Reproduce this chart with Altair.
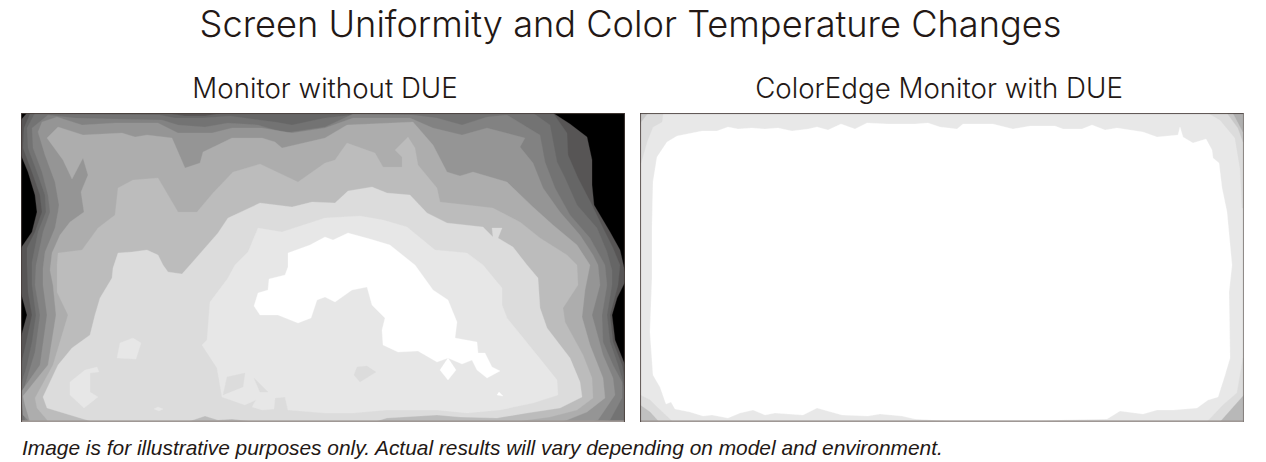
import altair as alt
import pandas as pd

TITLE = "Screen Uniformity and Color Temperature Changes"
LEFT_TITLE = "Monitor without DUE"
RIGHT_TITLE = "ColorEdge Monitor with DUE"
NOTE = "Image is for illustrative purposes only. Actual results will vary depending on model and environment."

# Contour outlines, in picture pixels
L0 = [(21,113),(625,113),(625,422),(21,422)]
L1 = [(27,113),(553,113),(570,124),(587,137),(592,160),(592,185),(594,205),(610,232),(620,250),(625,272),(625,282),(617,298),(612,315),(615,340),(625,365),(625,422),(21,422),(21,337),(27,315),(21,293),(21,248),(32,232),(37,212),(35,195),(28,172),(21,155),(21,120)]
L2 = [(30,114),(172,114),(185,116),(205,116),(222,113),(553,113),(567,133),(568,155),(578,178),(592,205),(603,228),(613,248),(620,265),(618,285),(610,315),(613,342),(622,365),(625,380),(625,422),(21,422),(21,365),(25,348),(32,315),(28,292),(27,265),(27,248),(35,232),(42,212),(40,195),(32,172),(23,148),(24,128)]
L3 = [(35,113),(80,114),(160,115),(175,118),(202,118),(230,116),(275,122),(292,125),(325,118),(370,113),(533,113),(550,125),(557,162),(565,178),(577,205),(597,228),(607,252),(612,270),(612,285),(607,315),(610,342),(618,365),(622,378),(625,392),(625,422),(21,422),(21,385),(27,365),(32,342),(36,315),(32,285),(32,262),(38,232),(46,212),(45,195),(37,172),(28,148),(27,128)]
L4 = [(48,115),(75,118),(115,119),(162,120),(178,125),(205,127),(228,123),(258,125),(285,133),(325,127),(353,114),(413,115),(437,118),(462,125),(487,117),(507,115),(540,135),(545,162),(555,188),(570,215),(590,238),(605,265),(607,285),(602,315),(603,342),(613,365),(622,382),(622,398),(610,420),(600,422),(45,422),(25,420),(21,398),(28,375),(35,352),(40,315),(35,285),(36,265),(43,232),(50,212),(48,195),(42,172),(33,148),(32,128)]
L5 = [(57,117),(82,125),(115,123),(158,123),(178,133),(212,133),(232,128),(262,128),(292,133),(325,128),(353,118),(410,118),(433,128),(462,135),(487,128),(525,138),(520,147),(533,163),(543,188),(560,212),(580,235),(593,255),(598,265),(600,285),(592,315),(603,355),(613,378),(615,395),(598,420),(590,422),(30,422),(23,415),(21,392),(40,365),(47,315),(43,285),(43,268),(45,252),(55,228),(58,212),(59,205),(55,182),(45,155),(38,132),(42,122)]
L6 = [(47,138),(58,127),(83,135),(122,133),(135,137),(147,135),(172,138),(185,168),(200,163),(203,152),(232,138),(262,138),(275,142),(282,148),(325,138),(347,125),(413,122),(433,145),(447,172),(460,176),(473,172),(507,182),(533,207),(553,225),(577,245),(590,265),(585,290),(582,317),(590,345),(603,378),(605,398),(587,412),(567,420),(560,422),(30,422),(25,405),(23,396),(48,365),(56,315),(53,285),(50,270),(52,253),(60,235),(70,222),(84,212),(81,192),(88,175),(83,158),(72,179),(63,160)]
L7 = [(118,188),(133,180),(158,178),(178,212),(197,212),(213,193),(233,172),(260,164),(298,182),(325,163),(335,160),(342,150),(347,143),(375,153),(383,167),(402,167),(402,157),(395,150),(408,137),(415,148),(418,165),(437,188),(440,202),(467,205),(493,208),(520,222),(540,238),(567,255),(577,265),(578,285),(563,308),(565,322),(583,355),(592,378),(593,398),(577,410),(550,417),(520,421),(48,421),(37,408),(35,398),(53,365),(68,315),(57,292),(57,265),(58,253),(82,250),(98,228),(115,215)]
L8 = [(113,268),(118,253),(132,252),(147,250),(158,255),(163,265),(168,272),(182,274),(190,265),(218,233),(228,218),(260,203),(292,207),(312,202),(335,203),(348,191),(372,187),(387,193),(410,195),(427,213),(447,223),(483,227),(493,237),(492,228),(502,228),(498,238),(513,247),(527,265),(538,278),(540,308),(547,328),(570,358),(580,382),(582,397),(560,408),(527,413),(497,418),(460,417),(437,415),(387,418),(377,421),(248,421),(232,419),(218,420),(205,416),(190,421),(90,421),(47,408),(43,397),(58,365),(72,348),(90,335),(95,315),(100,298),(112,278)]
L9 = [(235,265),(248,252),(258,228),(282,232),(325,218),(360,216),(383,220),(407,227),(435,250),(467,253),(483,265),(502,288),(502,305),(507,318),(537,355),(557,380),(558,395),(533,403),(500,410),(467,413),(437,410),(387,410),(353,413),(325,413),(288,410),(285,397),(275,398),(274,409),(262,410),(252,407),(256,400),(245,405),(222,397),(217,368),(202,345),(207,340),(210,302),(228,278)]
L9_A = [(120,343),(133,338),(141,343),(136,359),(117,358)]
L9_B = [(85,370),(97,367),(99,372),(90,373),(90,392),(98,397),(84,408),(70,395),(70,382)]
L9_C = [(154,409),(158,407),(163,409),(159,411)]
L8_A = [(227,377),(245,373),(243,387),(223,395)]
L8_B = [(254,378),(268,392),(260,392)]
L8_C = [(357,367),(367,366),(376,372),(360,382),(354,375)]
L10 = [(288,253),(310,245),(325,237),(333,240),(348,233),(370,239),(390,245),(415,265),(433,290),(448,300),(457,322),(455,338),(477,342),(478,353),(485,353),(492,367),(500,371),(487,378),(477,370),(472,360),(462,364),(448,358),(437,362),(418,351),(398,352),(383,345),(382,330),(385,318),(372,305),(367,287),(352,290),(335,302),(325,297),(317,300),(311,318),(298,323),(278,315),(260,315),(254,306),(258,293),(268,290),(269,279),(285,275),(288,267)]
L10_A = [(448,358),(456,370),(448,380),(440,370)]
L10_B = [(497,395),(499,392),(503,396)]
L_EDGE = [(21,420.6),(625,420.6),(625,422),(21,422)]
L_FRAME_TOP = [(21,113),(625,113),(625,113.7),(21,113.7)]
L_FRAME_LEFT = [(21,113),(21.7,113),(21.7,422),(21,422)]
L_FRAME_RIGHT = [(624.3,113),(625,113),(625,422),(624.3,422)]

R_BASE = [(640,113),(1244,113),(1244,422),(640,422)]
R_WHITE = [(652,228),(653,182),(657,157),(667,142),(677,136),(702,131),(717,131),(728,127),(738,129),(752,128),(765,129),(778,128),(792,131),(808,129),(817,127),(828,130),(841,124),(855,129),(867,123),(888,124),(915,124),(928,123),(940,127),(957,129),(963,124),(993,124),(1013,129),(1030,126),(1055,126),(1063,129),(1082,129),(1092,125),(1105,130),(1117,128),(1143,132),(1157,137),(1178,135),(1180,127),(1183,137),(1193,143),(1206,139),(1212,150),(1213,158),(1219,163),(1222,188),(1227,212),(1232,265),(1229,292),(1230,358),(1225,375),(1218,397),(1208,400),(1197,408),(1173,410),(1157,410),(1143,414),(1120,411),(1107,419),(1060,420),(1040,421),(950,421),(932,420),(915,419),(902,416),(880,414),(868,416),(842,415),(817,408),(803,415),(775,413),(765,415),(753,410),(740,413),(728,418),(712,415),(703,416),(690,412),(675,409),(671,402),(666,404),(660,387),(653,375),(650,332),(652,278)]
R_TR_1 = [(1208,113),(1220,120),(1235,138),(1240,168),(1242,208),(1244,208),(1244,113)]
R_TR_2 = [(1227,113),(1238,128),(1243,142),(1244,142),(1244,113)]
R_TR_3 = [(1233,113),(1243,132),(1244,113)]
R_TL_1 = [(640,113),(663,113),(662,122),(653,127),(647,142),(641,163),(640,163)]
R_TL_2 = [(640,113),(648,113),(641,122),(640,125)]
R_BL_1 = [(640,395),(650,400),(658,408),(673,422),(640,422)]
R_BL_2 = [(640,405),(650,412),(659,422),(640,422)]
R_BR_1 = [(1207,422),(1223,405),(1237,393),(1243,358),(1244,358),(1244,422)]
R_BR_2 = [(1220,422),(1244,395),(1244,422)]
R_EDGE = [(640,420.6),(1244,420.6),(1244,422),(640,422)]
R_FRAME_TOP = [(640,113),(1244,113),(1244,113.7),(640,113.7)]
R_FRAME_LEFT = [(640,113),(640.7,113),(640.7,422),(640,422)]
R_FRAME_RIGHT = [(1243.3,113),(1244,113),(1244,422),(1243.3,422)]

EDGE = "#a09a96"
FRAME = "#4a403d"
FRAME_SOFT = "#7d7673"
LEFT_LAYERS = [(L0,"#000000"),(L1,"#575555"),(L2,"#666666"),(L3,"#737373"),(L4,"#828282"),(L5,"#959595"),
               (L6,"#adadad"),(L7,"#bcbcbc"),(L8,"#dcdcdc"),(L9,"#e7e7e7"),
               (L9_A,"#e7e7e7"),(L9_B,"#e7e7e7"),(L9_C,"#e7e7e7"),(L8_A,"#dcdcdc"),(L8_B,"#dcdcdc"),(L8_C,"#dcdcdc"),
               (L10,"#ffffff"),(L10_A,"#ffffff"),(L10_B,"#ffffff"),(L_EDGE,EDGE),
               (L_FRAME_TOP,FRAME),(L_FRAME_LEFT,FRAME),(L_FRAME_RIGHT,FRAME)]
RIGHT_LAYERS = [(R_BASE,"#e8e8e8"),(R_WHITE,"#ffffff"),(R_TR_1,"#dcdcdc"),(R_TR_2,"#c8c8c8"),(R_TR_3,"#b0b0b0"),
                (R_TL_1,"#dcdcdc"),(R_TL_2,"#c8c8c8"),(R_BL_1,"#dcdcdc"),(R_BL_2,"#c0c0c0"),(R_BR_1,"#dcdcdc"),(R_BR_2,"#b8b8b8"),(R_EDGE,EDGE),
                (R_FRAME_TOP,FRAME),(R_FRAME_LEFT,FRAME),(R_FRAME_RIGHT,FRAME_SOFT)]

INK = "#231815"
FONT = "Inter"

def shape(points, colour, xdom, ydom):
    df = pd.DataFrame({"x": [p[0] for p in points], "y": [p[1] for p in points], "i": range(len(points))})
    return alt.Chart(df).mark_line(interpolate="linear-closed", fill=colour, stroke=colour, strokeWidth=0.3, clip=True).encode(
        x=alt.X("x:Q", scale=alt.Scale(domain=xdom, nice=False, zero=False), axis=None),
        y=alt.Y("y:Q", scale=alt.Scale(domain=ydom, nice=False, zero=False), axis=None),
        order=alt.Order("i:Q"),
    )

def panel(layers, xdom, title, shift):
    return alt.layer(*[shape(p, c, xdom, [422, 113]) for p, c in layers]).properties(
        width=604, height=309,
        title=alt.TitleParams(title, fontSize=27.7, font=FONT, color=INK, fontWeight=300, anchor="middle", offset=9, dx=shift),
        view=alt.ViewConfig(stroke="transparent", strokeWidth=0),
    )

left = panel(LEFT_LAYERS, [21, 625], LEFT_TITLE, 2)
right = panel(RIGHT_LAYERS, [640, 1244], RIGHT_TITLE, -3)

foot = alt.Chart(pd.DataFrame({"t": [NOTE]})).mark_text(
    align="left", baseline="alphabetic", fontSize=20.9, fontStyle="italic", font="Liberation Sans", color=INK
).encode(text="t:N", x=alt.value(1), y=alt.value(31)).properties(
    width=1223, height=28, view=alt.ViewConfig(strokeWidth=0, stroke="transparent"))

chart = alt.vconcat(alt.hconcat(left, right, spacing=15), foot, spacing=2).properties(
    title=alt.TitleParams(TITLE, fontSize=36.2, font=FONT, color=INK, fontWeight=300, anchor="middle", offset=32, dx=-2),
    padding={"left": 13, "top": 0, "right": 0, "bottom": 0},
).configure_view(stroke=None)

chart.save("out.html", embed_options={"renderer": "svg", "actions": False})
